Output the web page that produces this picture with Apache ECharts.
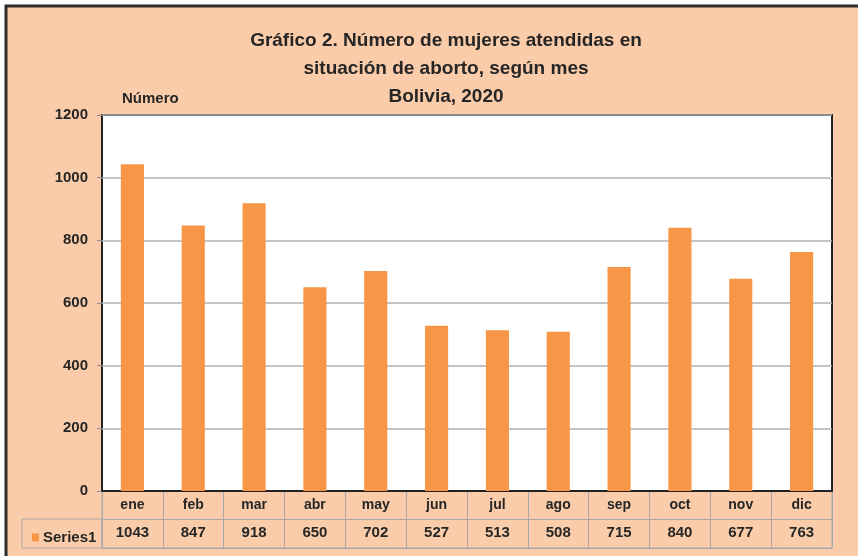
<!DOCTYPE html>
<html>
<head>
<meta charset="utf-8">
<script src="https://cdn.jsdelivr.net/npm/echarts@6/dist/echarts.min.js"></script>
<style>html,body{margin:0;padding:0;background:#fff;}#c{width:858px;height:556px;}</style>
</head>
<body>
<div id="c"></div>
<script>
const categories = ['ene','feb','mar','abr','may','jun','jul','ago','sep','oct','nov','dic'];
const values = [1043, 847, 918, 650, 702, 527, 513, 508, 715, 840, 677, 763];
const seriesName = 'Series1';
const yTicks = {min: 0, max: 1200, interval: 200};
const titleLines = ['Gráfico 2. Número de mujeres atendidas en', 'situación de aborto, según mes', 'Bolivia, 2020'];

const FONT = '"Liberation Sans", Arial, sans-serif';
const txt = '#262626';
const chart = echarts.init(document.getElementById('c'), null, {renderer: 'canvas'});
chart.setOption({
  backgroundColor: '#ffffff',
  animation: false,
  title: [
    {text: titleLines.join('\n'), left: 441, textAlign: 'center', top: 22,
     textStyle: {fontFamily: FONT, fontSize: 19, fontWeight: 'bold', color: txt, lineHeight: 28}},
    {text: 'Número', left: 117, top: 86,
     textStyle: {fontFamily: FONT, fontSize: 15, fontWeight: 'bold', color: txt}}
  ],
  graphic: [
    {type: 'rect', z: -100, shape: {x: 6, y: 6, width: 900, height: 600},
     style: {fill: '#FACCA9', stroke: '#2b2b2b', lineWidth: 3}},
    {type: 'rect', z: 1, shape: {x: 22, y: 519, width: 80, height: 29},
     style: {fill: 'none', stroke: '#a9a9a9', lineWidth: 1}}
  ],
  legend: {
    left: 27, top: 525, itemWidth: 7, itemHeight: 8, icon: 'rect', itemGap: 4,
    textStyle: {fontFamily: FONT, fontSize: 15, fontWeight: 'bold', color: txt, padding: [0, 0, 0, -1]},
    data: [seriesName]
  },
  grid: [
    {left: 102, right: 26, top: 115, bottom: 65, show: true, backgroundColor: '#ffffff',
     borderColor: '#222', borderWidth: 2, containLabel: false},
    {left: 102, right: 26, top: 491, height: 57, show: true, backgroundColor: 'transparent',
     borderColor: '#a9a9a9', borderWidth: 1}
  ],
  xAxis: [
    {type: 'category', gridIndex: 0, data: categories, position: 'bottom',
     axisLine: {show: true, lineStyle: {color: '#222', width: 2}}, axisTick: {show: false},
     axisLabel: {margin: 7, fontFamily: FONT, fontSize: 14, fontWeight: 'bold', color: txt, interval: 0}},
    {type: 'category', gridIndex: 0, data: values.map(String), position: 'bottom', offset: 27,
     axisLine: {show: false}, axisTick: {show: false},
     axisLabel: {margin: 7, fontFamily: FONT, fontSize: 15, fontWeight: 'bold', color: txt, interval: 0}},
    {type: 'category', gridIndex: 1, data: categories,
     axisLine: {show: false}, axisTick: {show: false}, axisLabel: {show: false},
     splitLine: {show: true, interval: 0, lineStyle: {color: '#a9a9a9', width: 1}}}
  ],
  yAxis: [
    {type: 'value', gridIndex: 0, min: yTicks.min, max: yTicks.max, interval: yTicks.interval,
     axisLine: {show: false}, axisTick: {show: true, length: 5, lineStyle: {color: '#888'}},
     axisLabel: {margin: 14, fontFamily: FONT, fontSize: 15, fontWeight: 'bold', color: txt,
                 formatter: v => String(v)},
     splitLine: {show: true, lineStyle: {color: '#b0b0b0', width: 1.5}}},
    {type: 'value', gridIndex: 1, min: 0, max: 2, interval: 1,
     axisLine: {show: false}, axisTick: {show: false}, axisLabel: {show: false},
     splitLine: {show: true, lineStyle: {color: '#a9a9a9', width: 1}}}
  ],
  series: [
    {name: seriesName, type: 'bar', xAxisIndex: 0, yAxisIndex: 0, data: values,
     barWidth: '38%', itemStyle: {color: '#F79646'}}
  ]
});
</script>
</body>
</html>
